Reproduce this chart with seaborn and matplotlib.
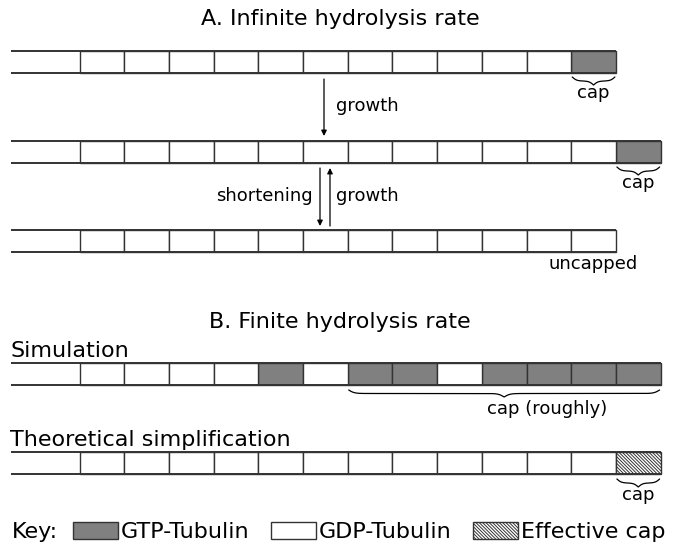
import numpy as np
import matplotlib
matplotlib.use("Agg")
import matplotlib.pyplot as plt
import seaborn as sns
from matplotlib.patches import Patch

# Cell states along each microtubule row (the open-ended stub on the left is extra)
row_a1 = ["GDP"] * 11 + ["GTP"]
row_a2 = ["GDP"] * 12 + ["GTP"]
row_a3 = ["GDP"] * 12
row_sim = ["GDP", "GDP", "GDP", "GDP", "GTP", "GDP", "GTP",
           "GTP", "GDP", "GTP", "GTP", "GTP", "GTP"]
row_theory = ["GDP"] * 12 + ["EFF"]

state_labels = ["GTP-Tubulin", "GDP-Tubulin", "Effective cap"]

sns.set_style("white")
plt.rcParams["font.family"] = ["DejaVu Sans"]
plt.rcParams["text.color"] = "black"
plt.rcParams["hatch.linewidth"] = 0.7

# layout in pixel units
STUB_X = 11
CELL_X0 = 79.5
CELL_W = 44.7
CELL_H = 22
EDGE = "#333333"
styles = {
    "GTP": dict(color="#808080", hatch=None),
    "GDP": dict(color="white", hatch=None),
    "EFF": dict(color="white", hatch="\\" * 10),
}

fig = plt.figure(figsize=(6.8, 5.48), dpi=100)
ax = fig.add_axes([0, 0, 1, 1])
ax.set_xlim(0, 680)
ax.set_ylim(548, 0)
ax.axis("off")


def draw_row(cells, top):
    yc = top + CELL_H / 2
    lefts = CELL_X0 + CELL_W * np.arange(len(cells))
    right = lefts[-1] + CELL_W
    for state, st in styles.items():
        idx = [i for i, c in enumerate(cells) if c == state]
        if not idx:
            continue
        ax.barh(yc, CELL_W, left=lefts[idx], height=CELL_H, color=st["color"],
                edgecolor=EDGE, linewidth=1.0, hatch=st["hatch"], zorder=2)
    ax.hlines([top, top + CELL_H], STUB_X, right, color=EDGE, lw=1.4, zorder=3)
    return lefts, right


def brace(x0, x1, y, depth=8, beta=0.45):
    half = (x1 - x0) / 2
    xs = np.linspace(0, half, 200)
    ys = 1 / (1 + np.exp(-beta * xs)) + 1 / (1 + np.exp(-beta * (xs - half))) - 0.5
    ys = ys - ys[0]
    ys = ys / ys[-1] * depth
    xx = np.concatenate([x0 + xs, x1 - xs[::-1]])
    yy = np.concatenate([ys, ys[::-1]])
    ax.plot(xx, y + yy, color="black", lw=0.9, zorder=3)


def arrow(x, y0, y1):
    ax.annotate("", xy=(x, y1), xytext=(x, y0),
                arrowprops=dict(arrowstyle="-|>", lw=0.9, color="black", mutation_scale=8,
                                shrinkA=0, shrinkB=0))


small = 13
big = 16

# ---- A. Infinite hydrolysis rate
ax.text(340, 19, "A. Infinite hydrolysis rate", ha="center", va="center", fontsize=big)

lefts, right = draw_row(row_a1, 51)
brace(lefts[-1] + 1, right - 1, 77)
ax.text(lefts[-1] + CELL_W / 2, 93, "cap", ha="center", va="center", fontsize=small)

arrow(324, 79, 136)
ax.text(336, 106, "growth", ha="left", va="center", fontsize=small)

lefts, right = draw_row(row_a2, 141)
brace(lefts[-1] + 1, right - 1, 167)
ax.text(lefts[-1] + CELL_W / 2, 183, "cap", ha="center", va="center", fontsize=small)

arrow(320, 168, 226)
arrow(330, 226, 168)
ax.text(313, 196, "shortening", ha="right", va="center", fontsize=small)
ax.text(336, 196, "growth", ha="left", va="center", fontsize=small)

lefts, right = draw_row(row_a3, 230)
ax.text(lefts[-1] + CELL_W / 2, 264, "uncapped", ha="center", va="center", fontsize=small)

# ---- B. Finite hydrolysis rate
ax.text(340, 322, "B. Finite hydrolysis rate", ha="center", va="center", fontsize=big)
ax.text(10, 351, "Simulation", ha="left", va="center", fontsize=big)

lefts, right = draw_row(row_sim, 363)
brace(lefts[6] + 1, right - 1, 390, depth=7, beta=0.35)
ax.text(547, 409, "cap (roughly)", ha="center", va="center", fontsize=small)

ax.text(10, 440, "Theoretical simplification", ha="left", va="center", fontsize=big)
lefts, right = draw_row(row_theory, 452)
brace(lefts[-1] + 1, right - 1, 479)
ax.text(lefts[-1] + CELL_W / 2, 495, "cap", ha="center", va="center", fontsize=small)

# ---- Key
ax.text(12, 532, "Key:", ha="left", va="center", fontsize=big)
handles = [Patch(facecolor=styles[k]["color"], edgecolor=EDGE, hatch=styles[k]["hatch"], lw=1.0)
           for k in ["GTP", "GDP", "EFF"]]
ax.legend(handles, state_labels, loc="center left", bbox_to_anchor=(73 / 680, 1 - 532 / 548),
          ncol=3, frameon=False, fontsize=big, handlelength=2.03, handleheight=0.8,
          handletextpad=0.14, columnspacing=0.95, borderpad=0, borderaxespad=0)

fig.savefig("out.png", dpi=100)
